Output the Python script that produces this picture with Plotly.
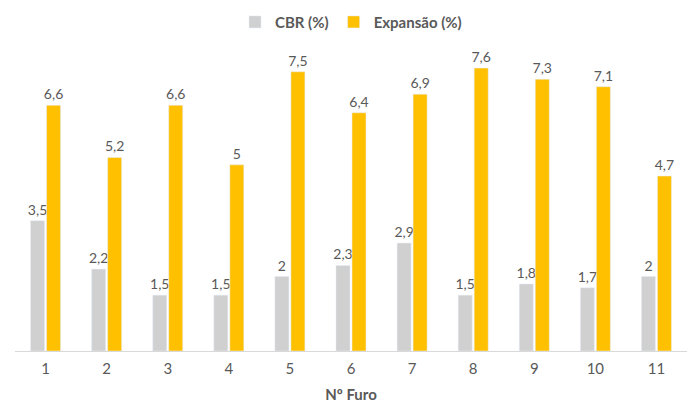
import plotly.graph_objects as go

furos = ["1", "2", "3", "4", "5", "6", "7", "8", "9", "10", "11"]
cbr = [3.5, 2.2, 1.5, 1.5, 2, 2.3, 2.9, 1.5, 1.8, 1.7, 2]
expansao = [6.6, 5.2, 6.6, 5, 7.5, 6.4, 6.9, 7.6, 7.3, 7.1, 4.7]


def fmt(v):
    return ("%g" % v).replace(".", ",")


FONT = "Lato, Open Sans, sans-serif"
GREY_TXT = "#595959"
label_font = dict(family=FONT, size=14, color=GREY_TXT)

fig = go.Figure()
fig.add_trace(go.Bar(
    x=furos, y=cbr, name="<b>CBR (%)</b>",
    marker_color="#D0D0D0",
    text=[fmt(v) for v in cbr], textposition="outside",
    textfont=label_font, cliponaxis=False, constraintext="none",
))
fig.add_trace(go.Bar(
    x=furos, y=expansao, name="<b>Expansão (%)</b>",
    marker_color="#FFC000",
    text=[fmt(v) for v in expansao], textposition="outside",
    textfont=label_font, cliponaxis=False, constraintext="none",
))

fig.update_layout(
    width=692, height=403,
    margin=dict(l=15, r=5, t=45, b=52, autoexpand=False),
    paper_bgcolor="white", plot_bgcolor="white",
    barmode="group", bargap=0.476, bargroupgap=0.125,
    showlegend=True,
    legend=dict(
        orientation="h", x=0.5, xanchor="center",
        yref="container", y=0.945, yanchor="middle",
        font=dict(family=FONT, size=15, color=GREY_TXT),
        traceorder="normal",
    ),
    xaxis=dict(
        showline=True, linecolor="#D9D9D9", linewidth=1,
        ticks="", showgrid=False, ticklabelstandoff=4,
        tickfont=dict(family=FONT, size=15, color=GREY_TXT),
        title=dict(text="<b>Nº Furo</b>",
                   font=dict(family=FONT, size=15, color=GREY_TXT),
                   standoff=18),
    ),
    yaxis=dict(visible=False, range=[0, 8.22]),
)

fig.write_html("out.html")
